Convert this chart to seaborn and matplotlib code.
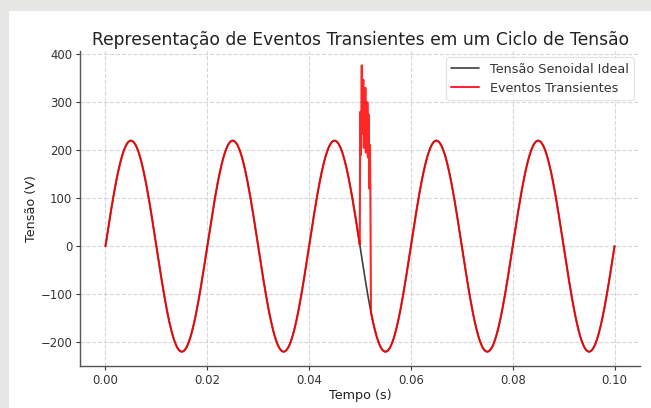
import numpy as np
import pandas as pd
import matplotlib
matplotlib.use("Agg")
import matplotlib.pyplot as plt
from matplotlib.patches import Rectangle
import seaborn as sns

# Ideal supply: 220 V peak at 50 Hz over 0.1 s
amplitude_v = 220
frequency_hz = 50
duration_s = 0.1
n_samples = 1000

# Transient burst: first disturbed sample and the disturbed readings (V)
burst_start = 500
burst_values = [280, 190, 265, 377, 235, 320, 347, 205, 300, 250, 330,
                195, 290, 230, 300, 185, 275, 240, 120, 211, 95]

x_ticks = [0.00, 0.02, 0.04, 0.06, 0.08, 0.10]
y_ticks = [-200, -100, 0, 100, 200, 300, 400]

t = np.linspace(0, duration_s, n_samples)
ideal = amplitude_v * np.sin(2 * np.pi * frequency_hz * t)
transient = ideal.copy()
transient[burst_start:burst_start + len(burst_values)] = burst_values

df = pd.DataFrame({"t": t, "ideal": ideal, "transient": transient})

sns.set_theme(style="white")
plt.rcParams["font.family"] = ["DejaVu Sans"]

fig = plt.figure(figsize=(6.51, 4.08), dpi=100)
fig.patch.set_facecolor("#e6e7e5")
fig.patches.append(Rectangle((9 / 651, 0), 1, 1 - 11 / 408,
                             transform=fig.transFigure, facecolor="white",
                             edgecolor="none", zorder=-10))
ax = fig.add_axes([80 / 651, 1 - 366 / 408, 560 / 651, 315 / 408])
ax.set_facecolor("white")

sns.lineplot(data=df, x="t", y="ideal", ax=ax, color="black", lw=1.2,
             alpha=0.75, label="Tensão Senoidal Ideal", estimator=None)
sns.lineplot(data=df, x="t", y="transient", ax=ax, color="red", lw=1.5,
             alpha=0.85, label="Eventos Transientes", estimator=None)

ax.set_xticks(x_ticks)
ax.set_yticks(y_ticks)
ax.set_xticklabels([f"{v:.2f}" for v in x_ticks])
ax.grid(True, linestyle="--", color="#cccccc", linewidth=0.8, alpha=0.8)
sns.despine(ax=ax)
for side in ("left", "bottom"):
    ax.spines[side].set_color("#555555")
    ax.spines[side].set_linewidth(1.0)
ax.tick_params(axis="both", which="major", labelsize=8.4, colors="#333333",
               length=3, width=0.8, direction="out", left=True, bottom=True,
               pad=2.5)
ax.tick_params(axis="both", labelcolor="#333333")

ax.set_title("Representação de Eventos Transientes em um Ciclo de Tensão",
             fontsize=12.3, color="#222222", pad=4)
ax.set_xlabel("Tempo (s)", fontsize=9.2, color="#222222", labelpad=1.5)
ax.set_ylabel("Tensão (V)", fontsize=9.2, color="#222222", labelpad=2)

leg = ax.legend(loc="upper right", fontsize=9.2, frameon=True,
                borderaxespad=0.5, handlelength=2.2)
leg.get_frame().set_edgecolor("#dddddd")
leg.get_frame().set_linewidth(0.8)
for txt in leg.get_texts():
    txt.set_color("#333333")

fig.savefig("out.png", dpi=100, facecolor=fig.get_facecolor())
